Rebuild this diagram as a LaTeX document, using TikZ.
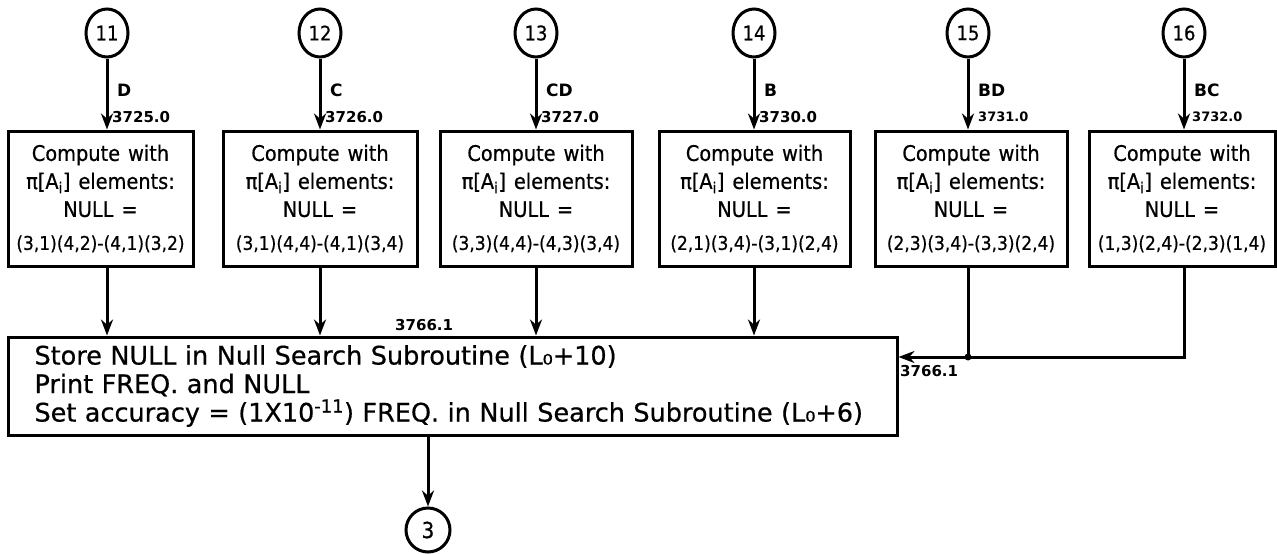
\documentclass[tikz,border=0pt]{standalone}
\usepackage{fontspec}
\setmainfont{DejaVu Sans}
\newfontfamily\boxfont[FakeStretch=0.9,WordSpace=1.3,FakeBold=0.6]{DejaVu Sans}
\newfontfamily\bigfont[FakeStretch=1.0,WordSpace=1.5,FakeBold=0.6]{DejaVu Sans}
\usetikzlibrary{arrows.meta,shapes.geometric}
\tikzset{
  conn/.style={ellipse, draw, line width=3pt, minimum width=42pt, minimum height=48pt, inner sep=0pt, font=\boxfont\fontsize{20}{20}\selectfont},
  endconn/.style={circle, draw, line width=3pt, minimum size=44pt, inner sep=0pt, font=\boxfont\fontsize{22}{22}\selectfont},
  cbox/.style={draw, line width=3pt, minimum height=135pt, inner sep=0pt, align=center, font=\boxfont\fontsize{21.5}{28}\selectfont},
  bigbox/.style={draw, line width=3pt, minimum width=889pt, minimum height=98pt, inner xsep=26pt, inner ysep=0pt, text width=836pt, align=left, font=\bigfont\fontsize{25.5}{28.5}\selectfont},
  flow/.style={line width=3pt, -{Stealth[length=16pt,width=12pt]}},
  plain/.style={line width=3pt},
  lab/.style={inner sep=0pt, anchor=west, font=\bfseries\fontsize{17}{17}\selectfont},
  num/.style={inner sep=0pt, anchor=west, font=\bfseries\fontsize{15}{15}\selectfont},
  smallnum/.style={inner sep=0pt, anchor=west, font=\bfseries\fontsize{13}{13}\selectfont}
}
\newcommand{\pairs}[1]{{\fontsize{19}{19}\selectfont #1}}
\newcommand{\boxtext}[1]{Compute with\\π[A\textsubscript{i}] elements:\\NULL =\\[5pt]\pairs{#1}}
\begin{document}
\begin{tikzpicture}[x=1pt,y=-1pt]
\useasboundingbox (0,0) rectangle (1277,554);
% connectors (entry circles)
\node[conn] (c11) at (107,33) {11};
\node[conn] (c12) at (320,33) {12};
\node[conn] (c13) at (536,33) {13};
\node[conn] (c14) at (754,33) {14};
\node[conn] (c15) at (968,33) {15};
\node[conn] (c16) at (1184,33) {16};
% compute boxes
\node[cbox, minimum width=185pt] (b11) at (100.5,198.5) {\boxtext{(3,1)(4,2)-(4,1)(3,2)}};
\node[cbox, minimum width=194pt] (b12) at (320,198.5) {\boxtext{(3,1)(4,4)-(4,1)(3,4)}};
\node[cbox, minimum width=192pt] (b13) at (536,198.5) {\boxtext{(3,3)(4,4)-(4,3)(3,4)}};
\node[cbox, minimum width=191pt] (b14) at (754.5,198.5) {\boxtext{(2,1)(3,4)-(3,1)(2,4)}};
\node[cbox, minimum width=192pt] (b15) at (971,198.5) {\boxtext{(2,3)(3,4)-(3,3)(2,4)}};
\node[cbox, minimum width=186pt] (b16) at (1182,198.5) {\boxtext{(1,3)(2,4)-(2,3)(1,4)}};
% labels
\node[lab] (l11) at (117,90) {D};
\node[lab] (l12) at (330,90) {C};
\node[lab] (l13) at (546,90) {CD};
\node[lab] (l14) at (764,90) {B};
\node[lab] (l15) at (978,90) {BD};
\node[lab] (l16) at (1194,90) {BC};
\node[num] (n11) at (112,117) {3725.0};
\node[num] (n12) at (325,117) {3726.0};
\node[num] (n13) at (541,117) {3727.0};
\node[num] (n14) at (759,117) {3730.0};
\node[smallnum] (n15) at (978,117) {3731.0};
\node[smallnum] (n16) at (1192,117) {3732.0};
% big box
\node[bigbox] (S) at (452.5,386) {Store NULL in Null Search Subroutine (L₀+10)\\Print FREQ. and NULL\\Set accuracy = (1X10\textsuperscript{-11}) FREQ. in Null Search Subroutine (L₀+6)};
\node[num] (n3a) at (395,325) {3766.1};
\node[num] (n3b) at (900,371) {3766.1};
% exit circle
\node[endconn] (c3) at (428,530) {3};
% arrows into compute boxes
\foreach \i in {11,12,13,14,15,16}{
  \draw[flow] (c\i.south) -- (c\i.south |- b\i.north);
}
% arrows into big box
\foreach \i in {11,12,13,14}{
  \draw[flow] (c\i |- b\i.south) -- (c\i |- S.north);
}
\coordinate (j15) at (968,357);
\draw[plain] (c16 |- b16.south) |- (j15);
\draw[plain] (c15 |- b15.south) -- (j15);
\draw[flow] (j15) -- (j15 -| S.east);
\fill (j15) circle (3.5pt);
% exit
\draw[flow] (c3 |- S.south) -- (c3.north);
\end{tikzpicture}
\end{document}
